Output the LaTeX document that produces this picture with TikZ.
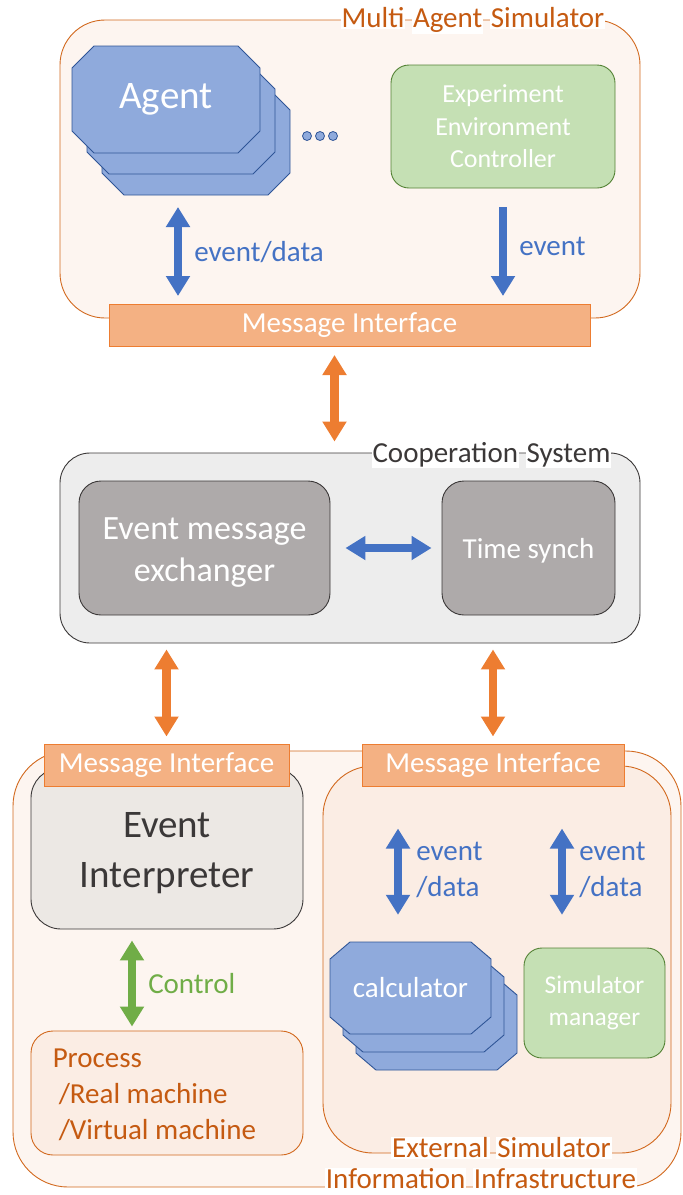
\documentclass[tikz,border=0pt]{standalone}
\usepackage{fontspec}
\setmainfont{Carlito}
\usetikzlibrary{arrows.meta}
\usetikzlibrary{positioning}
\definecolor{morange}{HTML}{ED7D31}
\definecolor{oline}{HTML}{D2691E}
\definecolor{otext}{HTML}{C55A11}
\definecolor{mbar}{HTML}{F4B183}
\definecolor{pbg}{HTML}{FDF5F0}
\definecolor{pin}{HTML}{FBEDE4}
\definecolor{bfill}{HTML}{8FAADC}
\definecolor{bline}{HTML}{2F5597}
\definecolor{bfont}{HTML}{4472C4}
\definecolor{gfill}{HTML}{C5E0B4}
\definecolor{gline}{HTML}{548235}
\definecolor{gfont}{HTML}{70AD47}
\definecolor{cbg}{HTML}{EDEDED}
\definecolor{cbox}{HTML}{AEAAAA}
\definecolor{dline}{HTML}{3B3838}
\definecolor{eibg}{HTML}{ECE8E4}
\newcommand\fsN{\fontsize{29}{36}\selectfont}
\newcommand\fsS{\fontsize{26}{32.5}\selectfont}
\newcommand\glw[1]{{\setlength\fboxsep{1pt}\colorbox{white}{#1}}}
\tikzset{
  >={Triangle[width=23pt,length=20pt]},
  frame/.style={rectangle, draw=oline, line width=0.9pt, rounded corners=#1, inner sep=0pt},
  msgbar/.style={rectangle, draw=morange, fill=mbar, line width=1pt, text=white, font=\fsN, minimum height=42pt, inner sep=0pt},
  chamline/.style={draw=bline, fill=bfill, line width=0.9pt},
  % width, height, chamfer x, chamfer y
  pics/chamfer/.style n args={4}{code={
    \path[chamline] (-#1/2+#3,-#2/2) -- (#1/2-#3,-#2/2) -- (#1/2,-#2/2+#4) -- (#1/2,#2/2-#4)
      -- (#1/2-#3,#2/2) -- (-#1/2+#3,#2/2) -- (-#1/2,#2/2-#4) -- (-#1/2,-#2/2+#4) -- cycle;
  }},
  greenbox/.style={rectangle, rounded corners=18pt, draw=gline, fill=gfill, line width=0.9pt, text=white, align=center, inner sep=0pt},
  graybox/.style={rectangle, rounded corners=22pt, draw=dline, fill=cbox, line width=0.9pt, text=white, align=center, inner sep=0pt},
  fat/.style={line width=8.5pt, draw=#1},
  ttl/.style={text=otext, font=\fsN, inner sep=0pt},
  lbl/.style={font=\fsN, inner sep=0pt, align=left},
}

\begin{document}
\begin{tikzpicture}[x=1pt, y=-1pt]
  \useasboundingbox (0,0) rectangle (683,1195);

  % multi agent simulator
  \node[frame=45pt, fill=pbg, minimum width=580pt, minimum height=298pt] (mas) at (350,169) {};
  \node[ttl] (mastitle) at (473,20) {\glw{Multi} \glw{Agent} \glw{Simulator}};
  \foreach \i in {2,1,0} {
    \pic at (166+15*\i, 99.5+21*\i) {chamfer={188}{107}{22}{22}};
  }
  \node[text=white, inner sep=0pt, minimum width=188pt, minimum height=107pt, font=\fontsize{39}{46}\selectfont] (agent) at (166,99.5) {Agent};
  \coordinate (agentbase) at (196,195);
  \foreach \x in {307,320,333} {
    \node[circle, draw=bline, fill=bfill, line width=0.8pt, minimum size=9pt, inner sep=0pt] (dot\x) at (\x,136) {};
  }
  \node[greenbox, minimum width=224pt, minimum height=123pt, font=\fsS] (eec) at (503,126.5) {Experiment\\Environment\\Controller};
  \node[msgbar, minimum width=481pt] (mi1) at (349.5,325.5) {Message Interface};
  \draw[fat=bfont, <->, shorten <=12pt, shorten >=8pt] ([xshift=-18pt]agentbase) --
    node[lbl, right=12pt, text=bfont, yshift=-3pt] (edlbl) {event/data} ([xshift=-18pt]agentbase |- mi1.north);
  \draw[fat=bfont, ->, shorten <=19pt, shorten >=8pt] (eec.south) --
    node[lbl, right=12pt, text=bfont] (evlbl) {event} (eec.south |- mi1.north);

  % cooperation system
  \node[rectangle, draw=dline, fill=cbg, line width=0.9pt, rounded corners=30pt, minimum width=580pt, minimum height=190pt] (coop) at (350,548) {};
  \node[ttl, text=dline] (cooptitle) at (491.5,455) {\glw{Cooperation} \glw{System}};
  \node[graybox, minimum width=251pt, minimum height=134pt] (eme) at (204.5,548) {};
  \node[text=white, align=center, inner sep=0pt, font=\fontsize{34}{42}\selectfont] (emetext) at ([yshift=-5pt]eme.center) {Event message\\exchanger};
  \node[graybox, minimum width=173pt, minimum height=134pt] (ts) at (528.5,548) {};
  \node[text=white, inner sep=0pt, font=\fsN] (tstext) at ([yshift=-3pt]ts.center) {Time synch};
  \draw[fat=bfont, <->, shorten <=15pt, shorten >=10pt] (eme.east) -- (ts.west);
  \draw[fat=morange, <->, shorten <=8pt, shorten >=11pt] ([xshift=-15pt]mi1.south) -- ([xshift=-15pt]mi1.south |- coop.north);

  % information infrastructure
  \node[frame=55pt, fill=pbg, minimum width=668pt, minimum height=436pt] (infra) at (347,969) {};
  \node[frame=50pt, fill=pin, minimum width=348pt, minimum height=387pt] (ext) at (497,959.5) {};
  \node[ttl] (infratitle) at (481,1179) {\glw{Information} \glw{Infrastructure}};
  \node[ttl] (exttitle) at (501.5,1148) {\glw{External} \glw{Simulator}};
  \node[rectangle, draw=dline, fill=eibg, line width=0.9pt, rounded corners=30pt, minimum width=272pt, minimum height=161pt] (ei) at (167,848.5) {};
  \node[text=dline, align=center, inner sep=0pt, font=\fontsize{39}{50}\selectfont] (eitext) at ([yshift=-5pt]ei.center) {Event\\Interpreter};
  \node[msgbar, minimum width=245pt] (mi2) at (166.5,765) {Message Interface};
  \node[msgbar, minimum width=262pt] (mi3) at (493,765) {Message Interface};
  \node[frame=22pt, fill=pin, minimum width=272pt, minimum height=124pt] (proc) at (167,1093) {};
  \node[lbl, anchor=west, text=otext, yshift=-2pt] (proctext) at ([xshift=22pt]proc.west)
    {Process\\\hspace{6pt}/Real machine\\\hspace{6pt}/Virtual machine};
  \draw[fat=gfont, <->, shorten <=11pt, shorten >=4pt] ([xshift=-35pt]ei.south) --
    node[lbl, right=12pt, text=gfont, yshift=-4pt] (ctrllbl) {Control} ([xshift=-35pt]ei.south |- proc.north);

  % calculators and simulator manager
  \foreach \i in {2,1,0} {
    \pic at (410.5+13*\i, 988+18*\i) {chamfer={161}{92}{20}{17}};
  }
  \node[text=white, inner sep=0pt, minimum width=161pt, minimum height=92pt, font=\fsN] (calc) at (410.5,988) {calculator};
  \node[greenbox, minimum width=141pt, minimum height=110pt, font=\fontsize{25.5}{32}\selectfont] (sm) at (594.5,1003) {Simulator\\manager};
  \draw[fat=bfont, <->, shorten <=27pt, shorten >=42pt] ([xshift=-12.5pt]calc.north) --
    node[lbl, right=14pt, text=bfont, yshift=-6pt] (calclbl) {event\\/data} ([xshift=-12.5pt]calc.north |- mi3.south);
  \draw[fat=bfont, <->, shorten <=27pt, shorten >=42pt] ([xshift=-32.5pt]sm.north |- calc.north) --
    node[lbl, right=13pt, text=bfont, yshift=-6pt] (smlbl) {event\\/data} ([xshift=-32.5pt]sm.north |- mi3.south);

  % links to the cooperation system
  \draw[fat=morange, <->, shorten <=6pt, shorten >=7pt] (mi2.north |- coop.south) -- (mi2.north);
  \draw[fat=morange, <->, shorten <=6pt, shorten >=7pt] (mi3.north |- coop.south) -- (mi3.north);
\end{tikzpicture}
\end{document}
